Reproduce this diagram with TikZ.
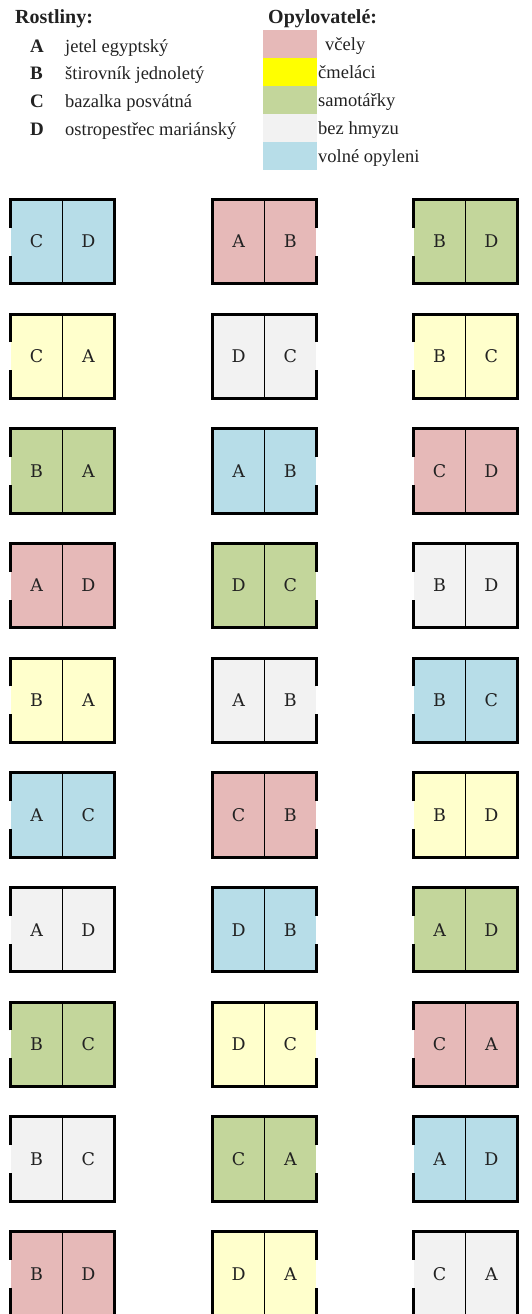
\documentclass[tikz,border=0pt]{standalone}
\usepackage{fontspec}
\setmainfont{Liberation Serif}
\newfontfamily\boxfont{DejaVu Serif}
\usetikzlibrary{calc}
\definecolor{cpink}{HTML}{E6B9B8}
\definecolor{cyel}{HTML}{FFFFCC}
\definecolor{cyelkey}{HTML}{FFFF00}
\definecolor{cgreen}{HTML}{C3D69B}
\definecolor{cgray}{HTML}{F2F2F2}
\definecolor{cblue}{HTML}{B7DDE8}
\definecolor{ink}{HTML}{222222}
\begin{document}
\begin{tikzpicture}[x=1pt,y=-1pt,
  wall/.style={line width=3pt, line join=miter, line cap=butt, draw=black},
  divider/.style={line width=1pt, draw=black},
  cellbox/.style={minimum width=103pt, minimum height=84pt, inner sep=0pt, draw=none},
  letter/.style={font=\boxfont\fontsize{17.5}{21}\selectfont, text=ink, inner sep=0pt},
  heading/.style={font=\rmfamily\bfseries\fontsize{20}{24}\selectfont, anchor=base west, inner sep=0pt, text=ink},
  keyl/.style={font=\rmfamily\bfseries\fontsize{19}{22}\selectfont, anchor=base west, inner sep=0pt, text=ink},
  item/.style={font=\rmfamily\fontsize{18.5}{22}\selectfont, anchor=base west, inner sep=0pt, text=ink},
  swatch/.style={minimum width=54pt, minimum height=28pt, inner sep=0pt, anchor=north west, draw=none}]
\useasboundingbox (0,0) rectangle (531,1314);
\clip (0,0) rectangle (531,1314);
% legend: plants
\node[heading] (h1) at (15,24) {Rostliny:};
\node[keyl] (ka) at (30,52.5) {A};
\node[item] (ta) at (65,52.5) {jetel egyptský};
\node[keyl] (kb) at (30,79.5) {B};
\node[item] (tb) at (65,79.5) {štirovník jednoletý};
\node[keyl] (kc) at (30,107.5) {C};
\node[item] (tc) at (65,107.5) {bazalka posvátná};
\node[keyl] (kd) at (30,135.5) {D};
\node[item] (td) at (65,135.5) {ostropestřec mariánský};
% legend: pollinators
\node[heading] (h2) at (268,24) {Opylovatelé:};
\node[swatch, fill=cpink] (s1) at (263,30) {};
\node[swatch, fill=cyelkey] (s2) at (263,58) {};
\node[swatch, fill=cgreen] (s3) at (263,86) {};
\node[swatch, fill=cgray] (s4) at (263,114) {};
\node[swatch, fill=cblue] (s5) at (263,142) {};
\node[item] (p1) at (325,50.5) {včely};
\node[item] (p2) at (318,78.5) {čmeláci};
\node[item] (p3) at (318,106.5) {samotářky};
\node[item] (p4) at (318,134.5) {bez hmyzu};
\node[item] (p5) at (318,162.5) {volné opyleni};
% plots
\foreach \r/\c/\la/\lb/\fc in {
  1/1/C/D/cblue, 1/2/A/B/cpink, 1/3/B/D/cgreen,
  2/1/C/A/cyel, 2/2/D/C/cgray, 2/3/B/C/cyel,
  3/1/B/A/cgreen, 3/2/A/B/cblue, 3/3/C/D/cpink,
  4/1/A/D/cpink, 4/2/D/C/cgreen, 4/3/B/D/cgray,
  5/1/B/A/cyel, 5/2/A/B/cgray, 5/3/B/C/cblue,
  6/1/A/C/cblue, 6/2/C/B/cpink, 6/3/B/D/cyel,
  7/1/A/D/cgray, 7/2/D/B/cblue, 7/3/A/D/cgreen,
  8/1/B/C/cgreen, 8/2/D/C/cyel, 8/3/C/A/cpink,
  9/1/B/C/cgray, 9/2/C/A/cgreen, 9/3/A/D/cblue,
  10/1/B/D/cpink, 10/2/D/A/cyel, 10/3/C/A/cgray} {
  \pgfmathsetmacro\cx{{62.5,264.5,465.5}[\c-1]}
  \pgfmathsetmacro\cy{241.5+114.7*(\r-1)}
  \node[cellbox, fill=\fc] (b\r\c) at (\cx,\cy) {};
  \draw[divider] (b\r\c.north) -- (b\r\c.south);
  \node[letter] (l\r\c a) at ($(b\r\c.center)!0.5!(b\r\c.west)$) {\la};
  \node[letter] (l\r\c b) at ($(b\r\c.center)!0.5!(b\r\c.east)$) {\lb};
  \ifnum\c=2
    \draw[wall] ($(b\r\c.east)+(0,-14)$) -- (b\r\c.north east) -- (b\r\c.north west) -- (b\r\c.south west) -- (b\r\c.south east) -- ($(b\r\c.east)+(0,14)$);
  \else
    \draw[wall] ($(b\r\c.west)+(0,-14)$) -- (b\r\c.north west) -- (b\r\c.north east) -- (b\r\c.south east) -- (b\r\c.south west) -- ($(b\r\c.west)+(0,14)$);
  \fi
}
\end{tikzpicture}
\end{document}
